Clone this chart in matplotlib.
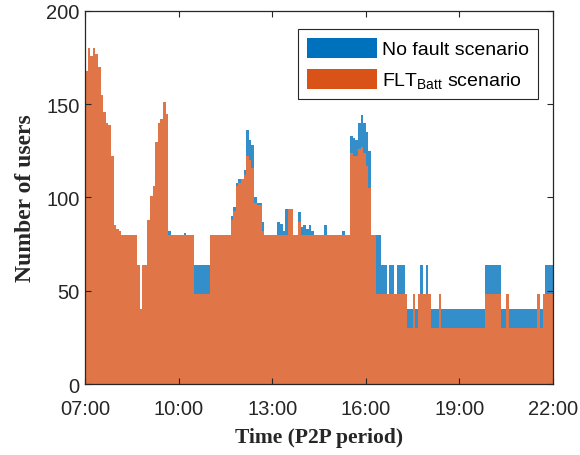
import numpy as np
import matplotlib
matplotlib.use('Agg')
import matplotlib.pyplot as plt
from matplotlib.patches import Patch

# number of users per 5-minute P2P period, 07:00 -> 22:00 (one row per hour)
no_fault = [
    168, 180, 176, 180, 177, 170, 155, 146, 140, 139, 122, 85,   # 07
    83, 82, 80, 80, 80, 80, 80, 80, 64, 40, 64, 64,              # 08
    88, 101, 106, 130, 140, 142, 151, 145, 82, 80, 80, 80,       # 09
    80, 80, 81, 80, 80, 80, 64, 64, 64, 64, 64, 64,              # 10
    80, 80, 80, 80, 80, 80, 80, 80, 90, 95, 108, 110,            # 11
    110, 115, 136, 131, 128, 100, 97, 97, 87, 80, 80, 80,        # 12
    80, 80, 87, 86, 82, 94, 94, 94, 80, 80, 92, 84,              # 13
    85, 83, 85, 82, 80, 80, 80, 80, 85, 80, 80, 80,              # 14
    80, 80, 80, 82, 80, 80, 133, 132, 131, 140, 144, 140,        # 15
    135, 125, 80, 80, 80, 80, 64, 64, 48, 64, 64, 48,            # 16
    64, 64, 64, 48, 40, 40, 48, 40, 48, 64, 48, 64,              # 17
    48, 40, 40, 40, 48, 40, 40, 40, 40, 40, 40, 40,              # 18
    40, 40, 40, 40, 40, 40, 40, 40, 40, 40, 64, 64,              # 19
    64, 64, 64, 64, 40, 40, 48, 40, 40, 40, 40, 40,              # 20
    40, 40, 40, 40, 40, 40, 48, 40, 48, 64, 64, 64,              # 21
]
flt_batt = [
    168, 180, 176, 180, 177, 170, 155, 146, 140, 139, 122, 85,   # 07
    83, 82, 80, 80, 80, 80, 80, 80, 64, 40, 64, 64,              # 08
    88, 101, 106, 130, 140, 142, 151, 145, 80, 80, 80, 80,       # 09
    80, 80, 80, 80, 80, 80, 48, 48, 48, 48, 48, 48,              # 10
    80, 80, 80, 80, 80, 80, 80, 80, 88, 93, 106, 108,            # 11
    110, 112, 122, 120, 116, 97, 96, 96, 82, 80, 80, 80,         # 12
    80, 80, 80, 80, 80, 80, 94, 94, 80, 80, 87, 80,              # 13
    80, 80, 80, 80, 80, 80, 80, 80, 80, 80, 80, 80,              # 14
    80, 80, 80, 80, 80, 80, 124, 122, 122, 126, 127, 124,        # 15
    117, 105, 80, 80, 48, 48, 48, 48, 48, 48, 48, 48,            # 16
    48, 48, 48, 48, 30, 30, 48, 30, 48, 48, 48, 48,              # 17
    48, 30, 30, 30, 48, 30, 30, 30, 30, 30, 30, 30,              # 18
    30, 30, 30, 30, 30, 30, 30, 30, 30, 30, 48, 48,              # 19
    48, 48, 48, 48, 30, 30, 48, 30, 30, 30, 30, 30,              # 20
    30, 30, 30, 30, 30, 30, 48, 30, 48, 48, 48, 48,              # 21
]
tick_hours = [7, 10, 13, 16, 19, 22]
tick_labels = ['07:00', '10:00', '13:00', '16:00', '19:00', '22:00']

step = 5 / 60
t = 7 + step * np.arange(len(no_fault))

fig = plt.figure(figsize=(5.8, 4.56), dpi=100)
ax = fig.add_axes([0.1466, 0.1557, 0.8068, 0.818])

ax.bar(t, no_fault, width=step, align='edge', color='#338ECA', linewidth=0)
ax.bar(t, flt_batt, width=step, align='edge', color='#E07547', linewidth=0)

ax.set_xlim(7, 22)
ax.set_ylim(0, 200)
ax.set_xticks(tick_hours)
ax.set_xticklabels(tick_labels)
ax.set_yticks([0, 50, 100, 150, 200])
ax.tick_params(direction='in', top=True, right=True, length=4, width=0.8,
               labelsize=14.5, colors='#262626', pad=4)
ax.tick_params(axis='x', pad=11)
for lab in ax.get_xticklabels() + ax.get_yticklabels():
    lab.set_family('Liberation Sans')
for s in ax.spines.values():
    s.set_color('#262626')
    s.set_linewidth(0.9)

ax.set_xlabel('Time (P2P period)', family='Liberation Serif', fontweight='bold',
              fontsize=15.5, color='#262626', labelpad=6)
ax.set_ylabel('Number of users', family='Liberation Serif', fontweight='bold',
              fontsize=17, color='#262626', labelpad=7)

handles = [Patch(facecolor='#0072BD', edgecolor='none'),
           Patch(facecolor='#D95319', edgecolor='none')]
leg = ax.legend(handles, ['No fault scenario', r'FLT$_{\mathregular{Batt}}$ scenario'],
                loc='upper right', bbox_to_anchor=(0.967, 0.952),
                prop={'family': 'Liberation Sans', 'size': 14},
                fancybox=False, framealpha=1, edgecolor='#262626',
                handlelength=3.6, handleheight=1.2, handletextpad=0.25,
                borderpad=0.45, labelspacing=0.55, borderaxespad=0)
leg.get_frame().set_linewidth(0.8)

fig.savefig('out.png', dpi=100)
